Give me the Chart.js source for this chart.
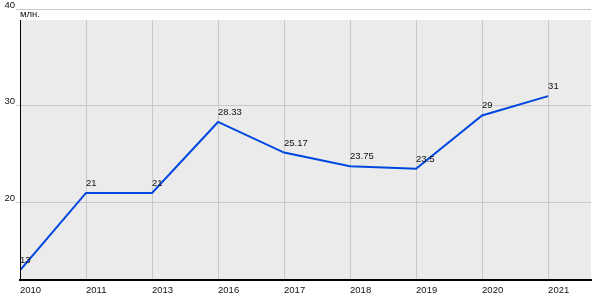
<!DOCTYPE html>
<html><head><meta charset="utf-8">
<script src="https://cdn.jsdelivr.net/npm/chart.js@4/dist/chart.umd.min.js"></script>
<style>html,body{margin:0;padding:0;background:#fff}#w{width:600px;height:300px}</style>
</head><body><div id="w"><canvas id="c"></canvas></div>
<script>
const categories = ['2010','2011','2013','2016','2017','2018','2019','2020','2021'];
const values = [13, 21, 21, 28.33, 25.17, 23.75, 23.5, 29, 31];
const valueLabels = ['13','21','21','28.33','25.17','23.75','23.5','29','31'];
const yTicks = [20, 30, 40];
const unitLabel = 'млн.';

const FONT = '"Liberation Sans", Arial, sans-serif';
const FS = 9.5;

const bgPlugin = {
  id: 'bg',
  beforeDraw(chart) {
    const {ctx, chartArea: a} = chart;
    ctx.save();
    ctx.fillStyle = '#ebebeb';
    ctx.fillRect(a.left, a.top + 11, a.right - a.left, a.bottom - a.top - 11);
    ctx.restore();
  },
  beforeDatasetsDraw(chart) {
    const {ctx, chartArea: a} = chart;
    ctx.save();
    ctx.fillStyle = '#fff';
    ctx.fillRect(a.left, a.top + 1, a.right - a.left + 2, 10);
    ctx.restore();
  },
  afterDraw(chart) {
    const {ctx, chartArea: a} = chart;
    ctx.save();
    ctx.strokeStyle = '#000';
    ctx.lineWidth = 1;
    ctx.beginPath();
    ctx.moveTo(a.left + 0.5, a.top + 11);
    ctx.lineTo(a.left + 0.5, a.bottom);
    ctx.stroke();
    ctx.font = FS + 'px ' + FONT;
    ctx.fillStyle = '#111';
    ctx.textAlign = 'left';
    ctx.textBaseline = 'alphabetic';
    ctx.fillText(unitLabel, a.left, a.top + 8);
    ctx.restore();
  }
};

const labelPlugin = {
  id: 'vlabels',
  afterDatasetsDraw(chart) {
    const {ctx} = chart;
    const meta = chart.getDatasetMeta(0);
    ctx.save();
    ctx.font = FS + 'px ' + FONT;
    ctx.fillStyle = '#111';
    ctx.textAlign = 'left';
    ctx.textBaseline = 'alphabetic';
    meta.data.forEach((p, i) => {
      ctx.fillText(valueLabels[i], p.x, p.y - 7);
    });
    ctx.restore();
  }
};

new Chart(document.getElementById('c'), {
  type: 'line',
  data: {
    datasets: [{
      data: values.map((v, i) => ({x: i, y: v})),
      borderColor: '#0047e0',
      borderWidth: 2,
      pointRadius: 0,
      tension: 0,
      fill: false
    }]
  },
  options: {
    responsive: true,
    maintainAspectRatio: false,
    animation: false,
    layout: {padding: {top: 9, right: 9, left: 0, bottom: 0}},
    plugins: {legend: {display: false}, tooltip: {enabled: false}},
    scales: {
      x: {
        type: 'linear',
        min: 0,
        max: 8.65,
        afterBuildTicks(s) { s.ticks = categories.map((c, i) => ({value: i})); },
        afterFit(s) { s.height = 20; },
        border: {display: true, color: '#000', width: 2},
        grid: {color: '#c8c8c8', lineWidth: 1, drawTicks: false},
        ticks: {
          callback: (v) => categories[v],
          align: 'start',
          maxRotation: 0,
          autoSkip: false,
          padding: 5,
          color: '#111',
          font: {family: FONT, size: FS}
        }
      },
      y: {
        type: 'linear',
        min: 12,
        max: 40,
        afterBuildTicks(s) { s.ticks = yTicks.map(v => ({value: v})); },
        afterFit(s) { s.width = 20; },
        border: {display: false},
        grid: {color: '#c8c8c8', lineWidth: 1, drawTicks: true, tickLength: 4},
        ticks: {
          labelOffset: -4,
          padding: 1,
          color: '#111',
          font: {family: FONT, size: FS}
        }
      }
    }
  },
  plugins: [bgPlugin, labelPlugin]
});
</script></body></html>
